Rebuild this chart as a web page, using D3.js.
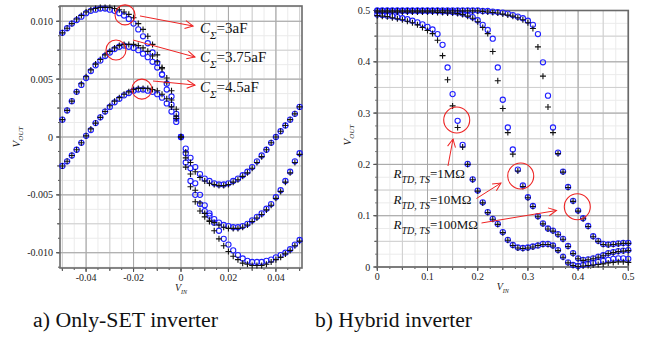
<!DOCTYPE html>

<head>
  <meta charset="utf-8">
  <script src="https://d3js.org/d3.v7.min.js"></script>
  <style>
    body { margin: 0; background: #fff; }
    svg, text, tspan { font-family: "Liberation Serif", "Times New Roman", Times, "DejaVu Serif", serif; }
  </style>
</head>

<body>

  <svg width="649" height="344" font-family="Liberation Serif, Times New Roman, DejaVu Serif, serif"></svg>

  <script>
    // ---- a) only-SET inverter : V_IN sweep, three C_sigma values ----
    const vinSet = [-0.050, -0.048, -0.046, -0.044, -0.042, -0.040, -0.038, -0.036, -0.034, -0.032, -0.030, -0.028, -0.026,
      -0.024, -0.022, -0.020, -0.018, -0.016, -0.014, -0.012, -0.010, -0.008, -0.006, -0.004, -0.002, 0.000,
      0.002, 0.004, 0.006, 0.008, 0.010, 0.012, 0.014, 0.016, 0.018, 0.020, 0.022, 0.024, 0.026,
      0.028, 0.030, 0.032, 0.034, 0.036, 0.038, 0.040, 0.042, 0.044, 0.046, 0.048, 0.050];

    // C = 3aF
    const setA_o = [0.0090, 0.0094, 0.0098, 0.0101, 0.0104, 0.0107, 0.0109, 0.0110, 0.0111, 0.0111, 0.0110, 0.0109, 0.0107,
      0.0105, 0.0102, 0.0098, 0.0093, 0.0087, 0.0081, 0.0073, 0.0064, 0.0054, 0.0041, 0.0028, 0.0016, 0.0000,
      -0.0014, -0.0027, -0.0040, -0.0050, -0.0059, -0.0066, -0.0074, -0.0081, -0.0088, -0.0093, -0.0098, -0.0102, -0.0105,
      -0.0107, -0.0108, -0.0108, -0.0108, -0.0107, -0.0106, -0.0104, -0.0102, -0.0100, -0.0097, -0.0093, -0.0089];
    const setA_p = [0.0090, 0.0094, 0.0098, 0.0102, 0.0105, 0.0108, 0.0110, 0.0111, 0.0112, 0.0112, 0.0112, 0.0111, 0.0110,
      0.0108, 0.0106, 0.0103, 0.0098, 0.0093, 0.0087, 0.0080, 0.0071, 0.0060, 0.0047, 0.0032, 0.0018, 0.0000,
      -0.0018, -0.0032, -0.0046, -0.0057, -0.0066, -0.0073, -0.0081, -0.0088, -0.0094, -0.0099, -0.0103, -0.0106, -0.0109,
      -0.0110, -0.0111, -0.0111, -0.0111, -0.0110, -0.0108, -0.0106, -0.0104, -0.0101, -0.0098, -0.0094, -0.0090];
    // C = 3.75aF
    const setB_o = [0.0015, 0.0023, 0.0031, 0.0039, 0.0045, 0.0051, 0.0057, 0.0062, 0.0066, 0.0070, 0.0073, 0.0076, 0.0078,
      0.0079, 0.0078, 0.0077, 0.0075, 0.0072, 0.0069, 0.0065, 0.0060, 0.0054, 0.0046, 0.0035, 0.0020, 0.0000,
      -0.0022, -0.0038, -0.0050, -0.0058, -0.0064, -0.0068, -0.0071, -0.0074, -0.0076, -0.0077, -0.0078, -0.0078, -0.0077,
      -0.0075, -0.0072, -0.0069, -0.0066, -0.0062, -0.0058, -0.0052, -0.0046, -0.0038, -0.0030, -0.0021, -0.0014];
    const setB_p = [0.0015, 0.0023, 0.0031, 0.0039, 0.0046, 0.0052, 0.0058, 0.0063, 0.0067, 0.0071, 0.0074, 0.0077, 0.0079,
      0.0080, 0.0080, 0.0080, 0.0079, 0.0077, 0.0074, 0.0070, 0.0065, 0.0059, 0.0051, 0.0040, 0.0024, 0.0000,
      -0.0026, -0.0043, -0.0056, -0.0064, -0.0069, -0.0072, -0.0074, -0.0076, -0.0078, -0.0079, -0.0079, -0.0079, -0.0078,
      -0.0076, -0.0073, -0.0070, -0.0067, -0.0063, -0.0059, -0.0053, -0.0047, -0.0039, -0.0031, -0.0022, -0.0015];
    // C = 4.5aF
    const setC_o = [-0.0025, -0.0021, -0.0016, -0.0011, -0.0005, 0.0001, 0.0006, 0.0012, 0.0017, 0.0022, 0.0026, 0.0030, 0.0033,
      0.0036, 0.0038, 0.0040, 0.0041, 0.0041, 0.0040, 0.0039, 0.0037, 0.0034, 0.0029, 0.0022, 0.0013, 0.0000,
      -0.0010, -0.0018, -0.0026, -0.0032, -0.0036, -0.0038, -0.0040, -0.0041, -0.0041, -0.0040, -0.0038, -0.0036, -0.0033,
      -0.0030, -0.0026, -0.0021, -0.0016, -0.0011, -0.0005, 0.0000, 0.0005, 0.0010, 0.0015, 0.0020, 0.0026];
    const setC_p = [-0.0025, -0.0021, -0.0016, -0.0011, -0.0005, 0.0001, 0.0007, 0.0012, 0.0017, 0.0022, 0.0027, 0.0031, 0.0034,
      0.0037, 0.0039, 0.0041, 0.0042, 0.0042, 0.0042, 0.0041, 0.0040, 0.0037, 0.0033, 0.0026, 0.0016, 0.0000,
      -0.0013, -0.0022, -0.0030, -0.0035, -0.0038, -0.0040, -0.0041, -0.0042, -0.0042, -0.0041, -0.0039, -0.0037, -0.0034,
      -0.0031, -0.0027, -0.0022, -0.0017, -0.0011, -0.0005, 0.0000, 0.0005, 0.0010, 0.0015, 0.0020, 0.0026];

    const setXTicks = [-0.04, -0.02, 0, 0.02, 0.04];
    const setXLabels = ["-0.04", "-0.02", "0", "0.02", "0.04"];
    const setYTicks = [-0.010, -0.005, 0, 0.005, 0.010];
    const setYLabels = ["-0.010", "-0.005", "0", "0.005", "0.010"];
    const setNames = ["=3aF", "=3.75aF", "=4.5aF"];

    // ---- b) hybrid inverter : three R_TD,TS values ----
    const vinHyb = [0.00, 0.01, 0.02, 0.03, 0.04, 0.05, 0.06, 0.07, 0.08, 0.09,
      0.10, 0.11, 0.12, 0.13, 0.14, 0.15, 0.16, 0.17, 0.18, 0.19,
      0.20, 0.21, 0.22, 0.23, 0.24, 0.25, 0.26, 0.27, 0.28, 0.29,
      0.30, 0.31, 0.32, 0.33, 0.34, 0.35, 0.36, 0.37, 0.38, 0.39,
      0.40, 0.41, 0.42, 0.43, 0.44, 0.45, 0.46, 0.47, 0.48, 0.49, 0.50];

    // R = 1MOhm
    const hyb1_o = [0.492, 0.491, 0.490, 0.489, 0.487, 0.485, 0.483, 0.480, 0.477, 0.473,
      0.468, 0.463, 0.454, 0.433, 0.389, 0.337, 0.285, 0.238, 0.201, 0.171,
      0.149, 0.126, 0.107, 0.094, 0.084, 0.068, 0.053, 0.043, 0.038, 0.037,
      0.038, 0.040, 0.042, 0.045, 0.045, 0.042, 0.033, 0.020, 0.009, 0.004,
      0.002, 0.004, 0.006, 0.008, 0.010, 0.012, 0.014, 0.016, 0.017, 0.017, 0.016];
    const hyb1_p = [0.490, 0.489, 0.488, 0.486, 0.484, 0.482, 0.479, 0.476, 0.472, 0.467,
      0.461, 0.455, 0.442, 0.412, 0.365, 0.314, 0.272, 0.234, 0.200, 0.170,
      0.148, 0.125, 0.106, 0.093, 0.083, 0.067, 0.052, 0.042, 0.037, 0.036,
      0.037, 0.039, 0.042, 0.044, 0.044, 0.041, 0.032, 0.019, 0.008, 0.003,
      0.001, 0.002, 0.003, 0.004, 0.005, 0.006, 0.008, 0.009, 0.010, 0.010, 0.009];
    // R = 10MOhm
    const hyb2_o = [0.499, 0.499, 0.499, 0.499, 0.499, 0.499, 0.499, 0.499, 0.499, 0.499,
      0.499, 0.499, 0.499, 0.498, 0.498, 0.497, 0.496, 0.494, 0.491, 0.487,
      0.481, 0.472, 0.462, 0.445, 0.389, 0.326, 0.272, 0.229, 0.190, 0.159,
      0.136, 0.119, 0.099, 0.085, 0.075, 0.071, 0.064, 0.055, 0.041, 0.027,
      0.017, 0.014, 0.015, 0.017, 0.020, 0.023, 0.027, 0.029, 0.031, 0.032, 0.033];
    const hyb2_p = [0.497, 0.497, 0.497, 0.497, 0.497, 0.497, 0.497, 0.497, 0.497, 0.497,
      0.497, 0.497, 0.496, 0.496, 0.495, 0.495, 0.494, 0.492, 0.489, 0.485,
      0.478, 0.467, 0.455, 0.420, 0.363, 0.309, 0.262, 0.220, 0.187, 0.157,
      0.135, 0.118, 0.098, 0.084, 0.074, 0.070, 0.063, 0.054, 0.040, 0.026,
      0.016, 0.013, 0.014, 0.016, 0.019, 0.022, 0.026, 0.028, 0.030, 0.031, 0.032];
    // R = 100MOhm
    const hyb3_o = [0.500, 0.500, 0.500, 0.500, 0.500, 0.500, 0.500, 0.500, 0.500, 0.500,
      0.500, 0.500, 0.500, 0.500, 0.500, 0.500, 0.500, 0.500, 0.500, 0.500,
      0.500, 0.499, 0.499, 0.498, 0.497, 0.496, 0.494, 0.491, 0.488, 0.485,
      0.480, 0.472, 0.454, 0.399, 0.334, 0.272, 0.223, 0.186, 0.156, 0.129,
      0.110, 0.095, 0.080, 0.060, 0.051, 0.045, 0.044, 0.045, 0.046, 0.047, 0.047];
    const hyb3_p = [0.499, 0.499, 0.499, 0.499, 0.499, 0.499, 0.499, 0.499, 0.499, 0.499,
      0.499, 0.499, 0.499, 0.499, 0.499, 0.499, 0.499, 0.499, 0.499, 0.499,
      0.499, 0.498, 0.497, 0.496, 0.495, 0.493, 0.491, 0.489, 0.486, 0.482,
      0.476, 0.465, 0.429, 0.372, 0.312, 0.262, 0.221, 0.185, 0.155, 0.128,
      0.109, 0.094, 0.079, 0.059, 0.050, 0.044, 0.043, 0.044, 0.045, 0.046, 0.046];

    const hybTicks = [0, 0.1, 0.2, 0.3, 0.4, 0.5];
    const hybLabels = ["0", "0.1", "0.2", "0.3", "0.4", "0.5"];
    const hybNames = ["=1M\u03A9", "=10M\u03A9", "=100M\u03A9"];

    const captions = ["a) Only-SET inverter", "b) Hybrid inverter"];

    const SERIF = "Liberation Serif, Times New Roman, DejaVu Serif, serif";

    const svg = d3.select("svg");
    svg.append("rect").attr("width", 649).attr("height", 344).attr("fill", "#fff");

    const RED = "#ee2424", BLUE = "#2020ff";

    svg.append("defs").append("marker")
      .attr("id", "head")
      .attr("markerUnits", "userSpaceOnUse")
      .attr("markerWidth", 12).attr("markerHeight", 12)
      .attr("refX", 9).attr("refY", 5)
      .attr("orient", "auto")
      .append("path")
      .attr("d", "M1,1 L9,5 L1,9")
      .attr("fill", "none").attr("stroke", RED).attr("stroke-width", 1);

    function steps(lo, hi, step) {
      const out = [];
      for (let k = Math.ceil(lo / step - 1e-6); k * step <= hi + step * 1e-6; k++) out.push(k * step);
      return out;
    }

    function panel(p) {
      const g = svg.append("g").attr("font-family", SERIF);
      const [xa, xb] = p.x.range(), [ya, yb] = p.y.range();
      const [dx0, dx1] = p.x.domain(), [dy0, dy1] = p.y.domain();

      // grid: faint, medium, major
      const levels = [[4, "#ebebeb", 2], [2, "#cfcfcf", 3], [1, "#a8a8a8", 4]];
      levels.forEach(([div, col, tl]) => {
        const xs = steps(dx0, dx1, p.xStep / div), ys = steps(dy0, dy1, p.yStep / div);
        g.selectAll(null).data(xs).join("line")
          .attr("x1", d => p.x(d)).attr("x2", d => p.x(d))
          .attr("y1", yb).attr("y2", ya + tl)
          .attr("stroke", col).attr("stroke-width", 1);
        g.selectAll(null).data(ys).join("line")
          .attr("y1", d => p.y(d)).attr("y2", d => p.y(d))
          .attr("x1", xa - tl).attr("x2", xb)
          .attr("stroke", col).attr("stroke-width", 1);
        // outer tick marks
        g.selectAll(null).data(xs).join("line")
          .attr("x1", d => p.x(d)).attr("x2", d => p.x(d))
          .attr("y1", ya).attr("y2", ya + tl)
          .attr("stroke", "#333").attr("stroke-width", 0.8);
        g.selectAll(null).data(ys).join("line")
          .attr("y1", d => p.y(d)).attr("y2", d => p.y(d))
          .attr("x1", xa - tl).attr("x2", xa)
          .attr("stroke", "#333").attr("stroke-width", 0.8);
      });

      g.append("rect")
        .attr("x", xa).attr("y", yb)
        .attr("width", xb - xa).attr("height", ya - yb)
        .attr("fill", "none").attr("stroke", "#6a6a6a").attr("stroke-width", 1.6);

      // tick labels
      g.selectAll(null).data(p.xTicks).join("text")
        .attr("x", d => p.x(d)).attr("y", ya + 13)
        .attr("text-anchor", "middle").attr("font-size", 10).attr("fill", "#222")
        .text((d, i) => p.xLabels[i]);
      g.selectAll(null).data(p.yTicks).join("text")
        .attr("x", xa - 7).attr("y", d => p.y(d) + 3.5)
        .attr("text-anchor", "end").attr("font-size", 10).attr("fill", "#222")
        .text((d, i) => p.yLabels[i]);

      // axis titles
      const xt = g.append("text")
        .attr("x", (xa + xb) / 2).attr("y", ya + 23)
        .attr("text-anchor", "middle").attr("fill", "#222").attr("font-style", "italic");
      xt.append("tspan").attr("font-size", 10).text("V");
      xt.append("tspan").attr("font-size", 6).attr("dy", 3).text("IN");

      const yt = g.append("text")
        .attr("transform", `translate(${p.yTitleX},${p.yTitleY}) rotate(-90)`)
        .attr("text-anchor", "middle").attr("fill", "#222").attr("font-style", "italic");
      yt.append("tspan").attr("font-size", 11).text("V");
      yt.append("tspan").attr("font-size", 7).attr("dy", 3).text("OUT");

      // series: blue open circles then black pluses
      p.series.forEach(s => {
        g.selectAll(null).data(p.xs.map((v, i) => [v, s.o[i]])).join("circle")
          .attr("cx", d => p.x(d[0])).attr("cy", d => p.y(d[1]))
          .attr("r", 2.6).attr("fill", "none")
          .attr("stroke", BLUE).attr("stroke-width", 1.1);
      });
      p.series.forEach(s => {
        g.selectAll(null).data(p.xs.map((v, i) => [v, s.p[i]])).join("path")
          .attr("d", d => {
            const cx = p.x(d[0]), cy = p.y(d[1]);
            return `M${cx - 3},${cy}H${cx + 3}M${cx},${cy - 3}V${cy + 3}`;
          })
          .attr("stroke", "#111").attr("stroke-width", 1.1);
      });

      // annotations
      g.selectAll(null).data(p.rings).join("circle")
        .attr("cx", d => p.x(d[0])).attr("cy", d => p.y(d[1]))
        .attr("r", p.ringR).attr("fill", "none")
        .attr("stroke", RED).attr("stroke-width", 1.1);
      g.selectAll(null).data(p.arrows).join("line")
        .attr("x1", d => p.x(d[0])).attr("y1", d => p.y(d[1]))
        .attr("x2", d => p.x(d[2])).attr("y2", d => p.y(d[3]))
        .attr("stroke", RED).attr("stroke-width", 1)
        .attr("marker-end", "url(#head)");

      p.labels.forEach((d, i) => {
        const t = g.append("text")
          .attr("x", p.x(d[0])).attr("y", p.y(d[1]))
          .attr("fill", "#111");
        t.append("tspan").attr("font-style", "italic").attr("font-size", p.labSize).text(p.sym);
        t.append("tspan").attr("font-style", "italic").attr("font-size", p.subSize)
          .attr("dy", p.subDy).text(p.sub);
        t.append("tspan").attr("font-size", p.labSize).attr("dy", -p.subDy).text(p.names[i]);
      });

      g.append("text")
        .attr("x", p.capX).attr("y", 327)
        .attr("font-size", 20).attr("fill", "#111")
        .attr("textLength", p.capW).attr("lengthAdjust", "spacingAndGlyphs")
        .text(p.caption);
    }

    panel({
      x: d3.scaleLinear().domain([-0.051, 0.051]).range([60, 302]),
      y: d3.scaleLinear().domain([-0.01132, 0.01132]).range([268, 6]),
      xStep: 0.02, yStep: 0.005,
      xTicks: setXTicks, xLabels: setXLabels, yTicks: setYTicks, yLabels: setYLabels,
      yTitleX: 20, yTitleY: 137,
      xs: vinSet,
      series: [{ o: setA_o, p: setA_p }, { o: setB_o, p: setB_p }, { o: setC_o, p: setC_p }],
      rings: [[-0.0236, 0.01055], [-0.0274, 0.00752], [-0.0165, 0.00414]],
      ringR: 10,
      arrows: [[-0.0173, 0.01046, 0.0051, 0.00959], [-0.0202, 0.00838, 0.0059, 0.00691], [-0.0118, 0.00484, 0.0059, 0.00449]],
      labels: [[0.0080, 0.00899], [0.0080, 0.00644], [0.0080, 0.00393]],
      sym: "C", sub: "\u03A3", names: setNames, labSize: 15, subSize: 11, subDy: 6,
      caption: captions[0], capX: 33, capW: 185
    });

    panel({
      x: d3.scaleLinear().domain([0, 0.5]).range([377.3, 628.3]),
      y: d3.scaleLinear().domain([0, 0.5]).range([267, 10.5]),
      xStep: 0.1, yStep: 0.1,
      xTicks: hybTicks, xLabels: hybLabels, yTicks: hybTicks, yLabels: hybLabels,
      yTitleX: 351, yTitleY: 135,
      xs: vinHyb,
      series: [{ o: hyb1_o, p: hyb1_p }, { o: hyb2_o, p: hyb2_p }, { o: hyb3_o, p: hyb3_p }],
      rings: [[0.1582, 0.2865], [0.2857, 0.1774], [0.3984, 0.1175]],
      ringR: 13,
      arrows: [[0.1408, 0.1969, 0.1508, 0.2495], [0.1976, 0.1335, 0.2464, 0.1637], [0.2076, 0.0858, 0.3570, 0.1101]],
      labels: [[0.0325, 0.1729], [0.0325, 0.1222], [0.0325, 0.0735]],
      sym: "R", sub: "TD, TS", names: hybNames, labSize: 13, subSize: 10, subDy: 5,
      caption: captions[1], capX: 315, capW: 157
    });
  </script>
</body>
